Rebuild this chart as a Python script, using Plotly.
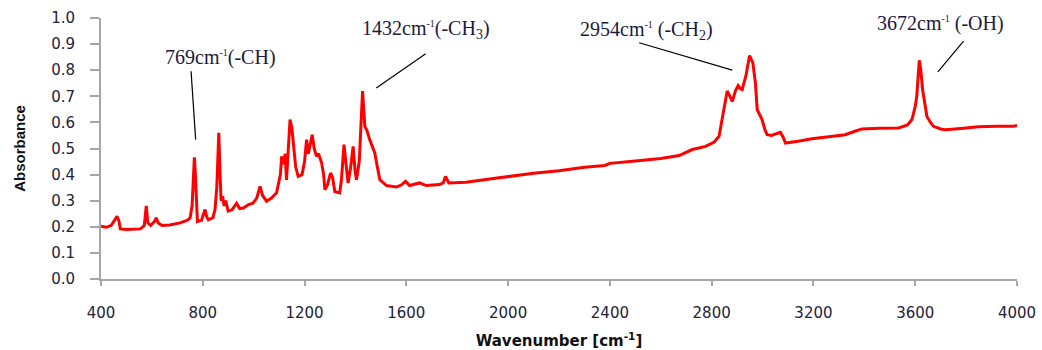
import plotly.graph_objects as go

wavenumber = [400, 420, 440, 449, 463, 470, 476, 500, 530, 555, 570, 578, 584, 595, 610, 617, 625, 640, 670, 711,
              740, 750, 758, 763, 767, 771, 775, 779, 795, 809, 815, 822, 840, 848, 855, 863, 868, 872, 878, 884,
              890, 900, 915, 933, 945, 960, 980, 997, 1012, 1025, 1035, 1051, 1070, 1090, 1105, 1110, 1118, 1124,
              1129, 1137, 1143, 1150, 1155, 1165, 1175, 1190, 1200, 1208, 1215, 1221, 1230, 1238, 1247, 1255, 1267,
              1275, 1280, 1290, 1302, 1310, 1319, 1338, 1345, 1355, 1362, 1371, 1380, 1391, 1398, 1404, 1415, 1428,
              1437, 1445, 1456, 1466, 1476, 1486, 1496, 1522, 1561, 1580, 1597, 1613, 1652, 1678, 1731, 1745, 1754,
              1767, 1835, 1927, 2000, 2100, 2200, 2300, 2380, 2400, 2500, 2600, 2672, 2700, 2724, 2776, 2810, 2829,
              2842, 2861, 2872, 2881, 2893, 2904, 2912, 2920, 2935, 2949, 2962, 2972, 2979, 2990, 2998, 3010, 3018,
              3035, 3057, 3070, 3080, 3090, 3140, 3194, 3260, 3325, 3360, 3391, 3460, 3535, 3570, 3587, 3600, 3606,
              3616, 3622, 3629, 3638, 3646, 3660, 3672, 3700, 3718, 3780, 3848, 3920, 3986, 4000]
absorbance = [0.202, 0.198, 0.205, 0.221, 0.240, 0.225, 0.192, 0.190, 0.190, 0.192, 0.205, 0.280, 0.215, 0.205,
              0.220, 0.234, 0.215, 0.205, 0.207, 0.215, 0.225, 0.234, 0.280, 0.400, 0.466, 0.400, 0.280, 0.220,
              0.225, 0.266, 0.240, 0.227, 0.235, 0.266, 0.350, 0.560, 0.400, 0.300, 0.317, 0.280, 0.300, 0.260,
              0.265, 0.290, 0.270, 0.272, 0.285, 0.290, 0.310, 0.355, 0.320, 0.298, 0.310, 0.330, 0.400, 0.470,
              0.440, 0.480, 0.380, 0.520, 0.611, 0.580, 0.520, 0.430, 0.393, 0.400, 0.450, 0.534, 0.480, 0.510,
              0.553, 0.500, 0.470, 0.480, 0.445, 0.400, 0.342, 0.360, 0.406, 0.390, 0.335, 0.330, 0.380, 0.515,
              0.450, 0.368, 0.420, 0.508, 0.420, 0.380, 0.450, 0.720, 0.585, 0.570, 0.534, 0.510, 0.483, 0.430,
              0.380, 0.358, 0.353, 0.360, 0.374, 0.358, 0.368, 0.358, 0.362, 0.368, 0.393, 0.368, 0.371, 0.383,
              0.393, 0.405, 0.415, 0.428, 0.435, 0.443, 0.452, 0.462, 0.473, 0.485, 0.496, 0.508, 0.525, 0.547,
              0.623, 0.720, 0.700, 0.680, 0.720, 0.741, 0.730, 0.726, 0.780, 0.856, 0.828, 0.750, 0.649, 0.625,
              0.611, 0.570, 0.553, 0.550, 0.557, 0.562, 0.545, 0.521, 0.528, 0.537, 0.545, 0.553, 0.565, 0.575,
              0.578, 0.579, 0.590, 0.611, 0.660, 0.700, 0.838, 0.800, 0.726, 0.660, 0.623, 0.600, 0.585, 0.575,
              0.572, 0.577, 0.583, 0.585, 0.585, 0.588]

x_ticks = [400, 800, 1200, 1600, 2000, 2400, 2800, 3200, 3600, 4000]
y_ticks = [0.0, 0.1, 0.2, 0.3, 0.4, 0.5, 0.6, 0.7, 0.8, 0.9, 1.0]

SUP = "<sup><span style='font-size:10px'>-1</span></sup>"
labels = ["769cm" + SUP + "(-CH)", "1432cm" + SUP + "(-CH<sub>3</sub>)",
          "2954cm" + SUP + " (-CH<sub>2</sub>)", "3672cm" + SUP + " (-OH)"]
label_pos = [(868, 0.849), (1676, 0.956), (2545, 0.953), (3701, 0.979)]
leader_lines = [((754, 0.796), (772, 0.534)), ((1676, 0.863), (1482, 0.732)),
                ((2515, 0.905), (2881, 0.800)), ((3790, 0.911), (3689, 0.794))]

fig = go.Figure()
fig.add_trace(go.Scatter(x=wavenumber, y=absorbance, mode="lines",
                         line=dict(color="#ff0000", width=3), showlegend=False))

tick_font = dict(family="DejaVu Sans", size=15, color="#22223a")
fig.update_layout(
    width=1042, height=350,
    margin=dict(l=101, r=25, t=18, b=71),
    paper_bgcolor="white", plot_bgcolor="white",
    xaxis=dict(range=[400, 4000], tickvals=x_ticks, ticktext=[str(v) for v in x_ticks],
               automargin=False,
               showgrid=False, zeroline=False, showline=True, linecolor="#a6a6a6", linewidth=2,
               ticks="outside", ticklen=5, tickwidth=2, tickcolor="#a6a6a6",
               tickfont=tick_font, ticklabelstandoff=14,
               title=dict(text="Wavenumber [cm<sup>-1</sup>]",
                          font=dict(family="DejaVu Sans", size=15, color="#111111", weight="bold"),
                          standoff=18)),
    yaxis=dict(range=[0, 1.0], tickvals=y_ticks, ticktext=[f"{v:.1f}" for v in y_ticks],
               automargin=False,
               showgrid=False, zeroline=False, showline=True, linecolor="#a6a6a6", linewidth=2,
               ticks="outside", ticklen=9, tickwidth=2, tickcolor="#a6a6a6",
               tickfont=tick_font, ticklabelstandoff=12,
               title=dict(text="Absorbance",
                          font=dict(family="Liberation Sans Narrow, Liberation Sans", size=15,
                                    color="#111111", weight="bold"),
                          standoff=22)),
)

for txt, (lx, ly) in zip(labels, label_pos):
    fig.add_annotation(x=lx, y=ly, xref="x", yref="y", text=txt, showarrow=False,
                       font=dict(family="Liberation Serif", size=20, color="#1a1a40"))

for (x0, y0), (x1, y1) in leader_lines:
    fig.add_shape(type="line", x0=x0, y0=y0, x1=x1, y1=y1, xref="x", yref="y",
                  line=dict(color="#000000", width=1.2))

fig.write_html("out.html", config={"displayModeBar": False},
               post_script="document.body.style.margin='0';document.body.style.overflow='hidden';")
